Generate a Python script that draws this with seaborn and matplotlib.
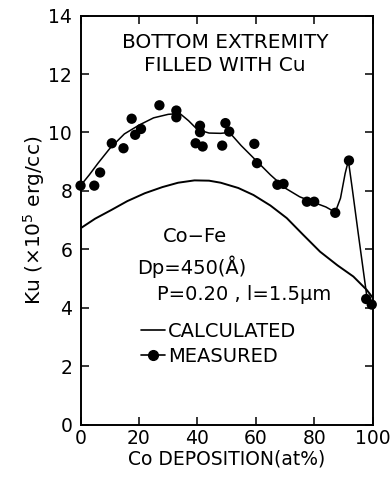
import numpy as np
import pandas as pd
import seaborn as sns
import matplotlib.pyplot as plt
from matplotlib.lines import Line2D

# measured points
meas_x = [0, 4.7, 6.7, 10.7, 14.7, 17.5, 18.7, 20.7, 27.0, 32.8, 32.8, 39.4, 40.9, 40.9,
          41.8, 48.5, 49.6, 50.9, 59.5, 60.4, 67.4, 69.5, 77.5, 80.0, 87.2, 91.9, 97.8, 99.7]
meas_y = [8.18, 8.18, 8.63, 9.63, 9.46, 10.47, 9.92, 10.12, 10.93, 10.75, 10.52, 9.63, 10.23, 10.01,
          9.52, 9.55, 10.32, 10.03, 9.61, 8.95, 8.21, 8.24, 7.63, 7.63, 7.25, 9.04, 4.30, 4.11]

# line drawn through the measured points
fit_x = [0, 3, 6, 10, 15, 20, 25, 30, 34, 37, 40, 44, 48, 51, 55, 60, 65, 70, 75, 80, 84,
         87.2, 89, 90.6, 91.7, 93, 95, 98, 100]
fit_y = [8.18, 8.55, 8.95, 9.45, 9.95, 10.25, 10.5, 10.62, 10.65, 10.4, 10.1, 9.98, 9.97, 10.0,
         9.55, 9.05, 8.55, 8.1, 7.8, 7.6, 7.45, 7.27, 7.75, 8.6, 9.04, 8.1, 6.6, 4.4, 4.15]

# calculated curve
calc_x = [0, 5, 10.6, 16, 22, 28, 33.4, 39, 44, 48, 54, 59.2, 65, 70.6, 76, 82, 88, 93.4, 98, 100]
calc_y = [6.72, 7.05, 7.35, 7.65, 7.92, 8.13, 8.28, 8.36, 8.35, 8.28, 8.1, 7.86, 7.5, 7.07, 6.52,
          5.92, 5.45, 5.07, 4.61, 4.35]

x_ticks = [0, 20, 40, 60, 80, 100]
y_ticks = [0, 2, 4, 6, 8, 10, 12, 14]

meas = pd.DataFrame({"x": meas_x, "y": meas_y})
fit = pd.DataFrame({"x": fit_x, "y": fit_y})
calc = pd.DataFrame({"x": calc_x, "y": calc_y})

sns.set_style("ticks")
plt.rcParams['font.family'] = ['DejaVu Sans']
plt.rcParams['font.size'] = 13.5
plt.rcParams['text.color'] = 'black'
plt.rcParams['axes.labelcolor'] = 'black'

fig = plt.figure(figsize=(3.91, 4.87), dpi=100)
ax = fig.add_axes([0.206, 0.128, 0.747, 0.840])

sns.lineplot(data=calc, x="x", y="y", ax=ax, color="black", lw=1.4, sort=False)
sns.lineplot(data=fit, x="x", y="y", ax=ax, color="black", lw=1.1, sort=False)
sns.scatterplot(data=meas, x="x", y="y", ax=ax, color="black", s=55, edgecolor="none",
                zorder=5, clip_on=False)

ax.set_xlim(0, 100)
ax.set_ylim(0, 14)
ax.set_xticks(x_ticks)
ax.set_yticks(y_ticks)
ax.tick_params(direction="in", top=True, right=True, length=6, width=1.1,
               labelsize=13.5, colors="black")
ax.tick_params(axis="x", pad=3)
ax.tick_params(axis="y", pad=6)
for s in ax.spines.values():
    s.set_linewidth(1.4)
    s.set_color("black")

ax.set_xlabel("Co DEPOSITION(at%)", fontsize=13.5, labelpad=1)
ax.set_ylabel("Ku (×10$^5$ erg/cc)", fontsize=14.5, labelpad=1)

ax.text(0.495, 0.935, "BOTTOM EXTREMITY", transform=ax.transAxes, ha="center", va="center",
        fontsize=14.5)
ax.text(0.495, 0.877, "FILLED WITH Cu", transform=ax.transAxes, ha="center", va="center",
        fontsize=14.5)
ax.text(0.392, 0.459, "Co−Fe", transform=ax.transAxes, ha="center", va="center", fontsize=14)
ax.text(0.193, 0.385, "Dp=450(Å)", transform=ax.transAxes, ha="left", va="center", fontsize=14)
ax.text(0.262, 0.317, "P=0.20 , l=1.5μm", transform=ax.transAxes, ha="left", va="center",
        fontsize=14)

handles = [Line2D([], [], color="black", lw=1.2),
           Line2D([], [], color="black", lw=1.2, marker="o", markersize=7)]
ax.legend(handles, ["CALCULATED", "MEASURED"], loc="upper left",
          bbox_to_anchor=(0.175, 0.275), frameon=False, borderpad=0,
          handlelength=1.2, handletextpad=0.15, labelspacing=0.3, fontsize=14)

plt.savefig("out.png", dpi=100)
